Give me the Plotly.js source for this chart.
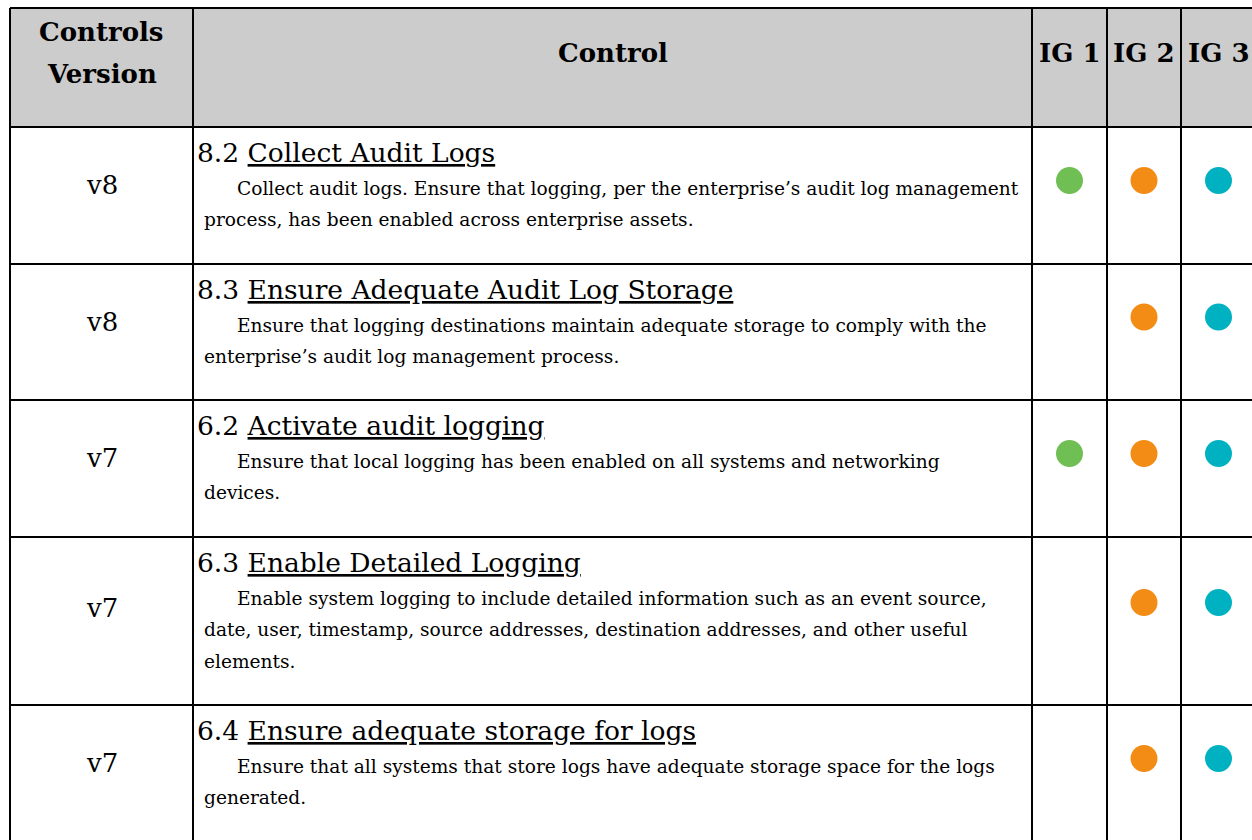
<!DOCTYPE html>
<html>
<head>
<meta charset="utf-8">
<script src="https://cdn.plot.ly/plotly-3.0.1.min.js"></script>
<style>html,body{margin:0;padding:0;background:#fff;}#chart{width:1252px;height:840px;}</style>
</head>
<body>
<div id="chart"></div>
<script>
// ---- data ----
const headerLabels = [["Controls", "Version"], ["Control"], ["IG 1"], ["IG 2"], ["IG 3"]];
const versions = ["v8", "v8", "v7", "v7", "v7"];
const controlIds = ["8.2", "8.3", "6.2", "6.3", "6.4"];
const controlTitles = [
  "Collect Audit Logs",
  "Ensure Adequate Audit Log Storage",
  "Activate audit logging",
  "Enable Detailed Logging",
  "Ensure adequate storage for logs"
];
const descriptionLines = [
  ["Collect audit logs. Ensure that logging, per the enterprise\u2019s audit log management",
   "process, has been enabled across enterprise assets."],
  ["Ensure that logging destinations maintain adequate storage to comply with the",
   "enterprise\u2019s audit log management process."],
  ["Ensure that local logging has been enabled on all systems and networking",
   "devices."],
  ["Enable system logging to include detailed information such as an event source,",
   "date, user, timestamp, source addresses, destination addresses, and other useful",
   "elements."],
  ["Ensure that all systems that store logs have adequate storage space for the logs",
   "generated."]
];
const ig1 = [true, false, true, false, false];
const ig2 = [true, true, true, true, true];
const ig3 = [true, true, true, true, true];

// ---- layout constants (pixels) ----
const W = 1252, H = 840;
const colEdges = [10, 193, 1032, 1107, 1181, 1256];
const tableTop = 8, headerBottom = 127;
const rowHeights = [137, 136, 137, 168, 137];
const FONT = "DejaVu Serif";
const igColors = ["#70bf54", "#f28c15", "#00b1c1"];

const rowTops = [];
let acc = headerBottom;
rowHeights.forEach(h => { rowTops.push(acc); acc += h; });

const shapes = [];
shapes.push({type:"rect", xref:"x", yref:"y", x0:colEdges[0], x1:colEdges[colEdges.length-1], y0:tableTop, y1:headerBottom,
  fillcolor:"#cccccc", line:{width:0}, layer:"below"});
const hLines = [tableTop, headerBottom].concat(rowTops.slice(1));
hLines.forEach(y => shapes.push({type:"line", xref:"x", yref:"y", x0:colEdges[0], x1:colEdges[colEdges.length-1], y0:y, y1:y,
  line:{color:"#000", width:2}}));
colEdges.forEach(x => shapes.push({type:"line", xref:"x", yref:"y", x0:x, x1:x, y0:tableTop, y1:acc,
  line:{color:"#000", width:2}}));

const annotations = [];
const mid = (i) => (colEdges[i] + colEdges[i+1]) / 2;
const headerMid = 53, headerLineGap = 42;
headerLabels.forEach((lines, i) => {
  lines.forEach((t, k) => {
    annotations.push({x: mid(i), y: headerMid + (k - (lines.length - 1) / 2) * headerLineGap, xref:"x", yref:"y",
      text:"<b>" + t + "</b>", showarrow:false, xanchor:"center", yanchor:"middle",
      font:{family:FONT, size:26, color:"#000"}});
  });
});
versions.forEach((v, r) => {
  const top = rowTops[r], h = rowHeights[r];
  annotations.push({x: mid(0), y: top + 0.425 * h, xref:"x", yref:"y", text:v, showarrow:false,
    xanchor:"center", yanchor:"middle", font:{family:FONT, size:26, color:"#000"}});
  annotations.push({x: colEdges[1] + 2, y: top + 25, xref:"x", yref:"y",
    text: controlIds[r] + ' <span style="text-decoration:underline">' + controlTitles[r] + '</span>',
    showarrow:false, xanchor:"left", yanchor:"middle", font:{family:FONT, size:26.5, color:"#000"}});
  descriptionLines[r].forEach((line, k) => {
    annotations.push({x: colEdges[1] + (k === 0 ? 42 : 9), y: top + 61 + k * 31.5, xref:"x", yref:"y",
      text: line, showarrow:false, xanchor:"left", yanchor:"middle",
      font:{family:FONT, size:18.6, color:"#000"}});
  });
});

const igFlags = [ig1, ig2, ig3];
const traces = igFlags.map((flags, g) => ({
  type:"scatter", mode:"markers",
  x: flags.map(f => f ? mid(g + 2) : null),
  y: flags.map((f, r) => f ? rowTops[r] + 0.39 * rowHeights[r] : null),
  marker:{size:27, color:igColors[g], line:{width:0}},
  hoverinfo:"skip", showlegend:false
}));

const layout = {
  width:W, height:H, margin:{l:0, r:0, t:0, b:0},
  paper_bgcolor:"#fff", plot_bgcolor:"#fff",
  xaxis:{range:[0, W], visible:false, fixedrange:true},
  yaxis:{range:[H, 0], visible:false, fixedrange:true},
  shapes, annotations, showlegend:false
};
Plotly.newPlot("chart", traces, layout, {displayModeBar:false, staticPlot:true});
</script>
</body>
</html>
